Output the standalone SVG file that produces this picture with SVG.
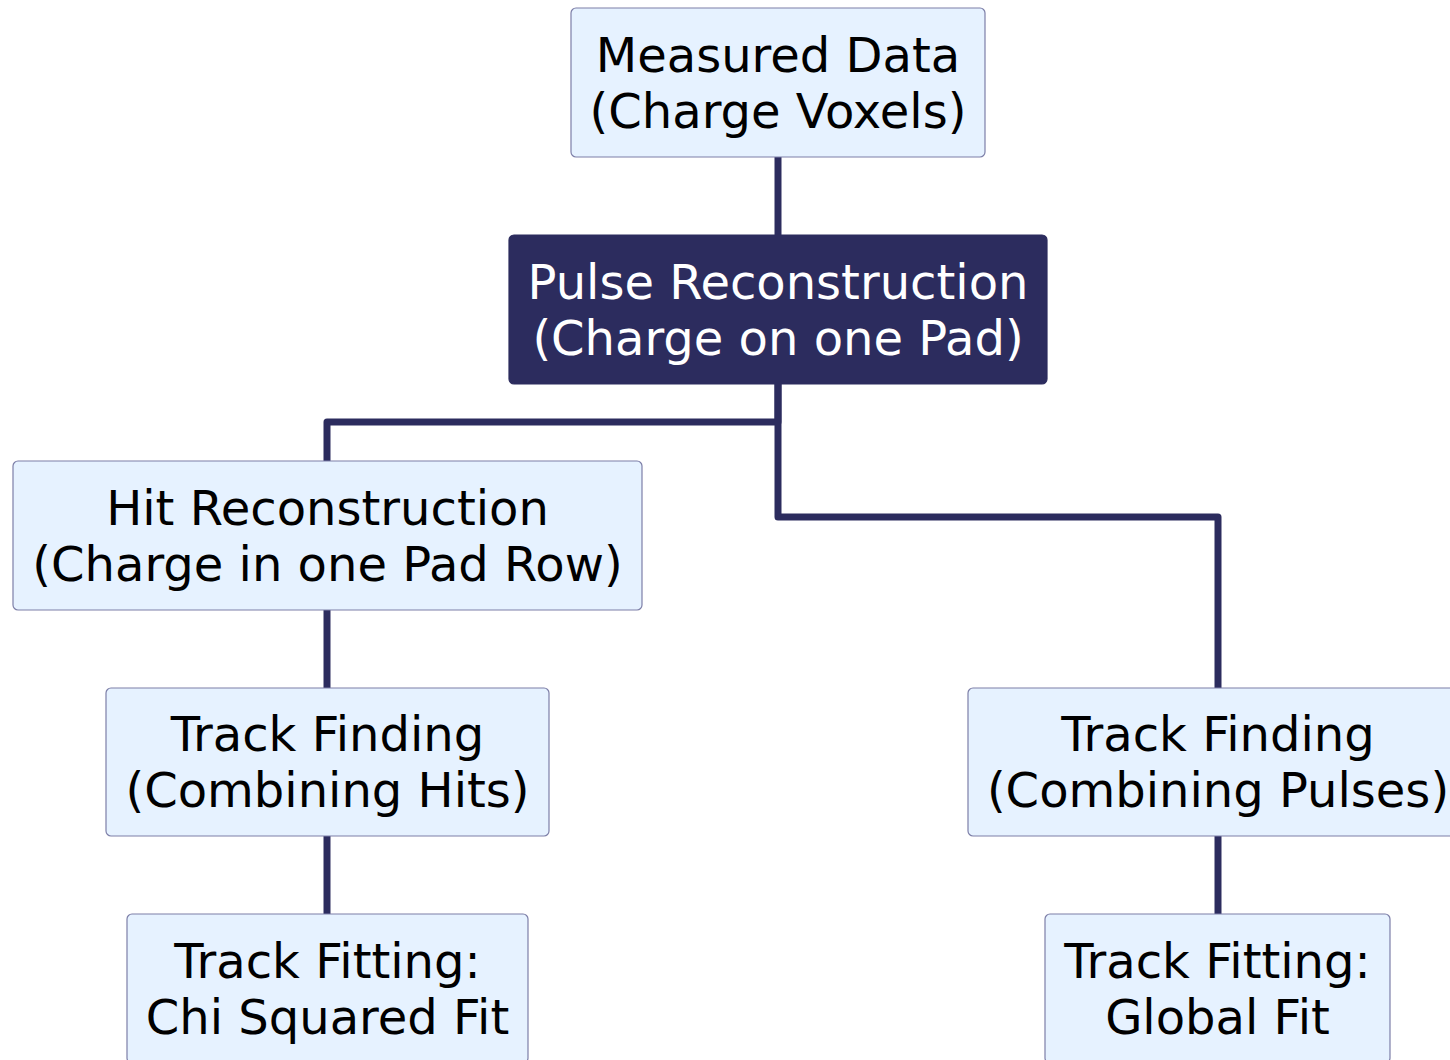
<svg xmlns="http://www.w3.org/2000/svg" width="1450" height="1060" viewBox="0 0 1450 1060">
  <style>
    .box { fill: #e6f2ff; stroke: #7d7fa8; stroke-width: 1.2; }
    .dark { fill: #2c2c5e; stroke: #2c2c5e; stroke-width: 1.2; }
    .lbl { font-family: "DejaVu Sans", sans-serif; font-size: 48px; text-anchor: middle; fill: #000; }
    .lbl-w { font-family: "DejaVu Sans", sans-serif; font-size: 48px; text-anchor: middle; fill: #fff; }
    .edge { fill: none; stroke: #2c2c5e; stroke-width: 7; stroke-linejoin: round; }
  </style>
  <rect width="1450" height="1060" fill="#ffffff"/>

  <g id="connectors">
    <path class="edge" d="M778 157 V235"/>
    <path class="edge" d="M778 384 V422 H327 V461"/>
    <path class="edge" d="M778 384 V517 H1218 V688"/>
    <path class="edge" d="M327 610 V688"/>
    <path class="edge" d="M327 836 V914"/>
    <path class="edge" d="M1218 836 V914"/>
  </g>

  <g id="measured-data">
    <rect class="box" x="571" y="8" width="414" height="149" rx="5"/>
    <text class="lbl" x="778" y="72">Measured Data</text>
    <text class="lbl" x="778" y="128">(Charge Voxels)</text>
  </g>

  <g id="pulse-reconstruction">
    <rect class="dark" x="509" y="235" width="538" height="149" rx="5"/>
    <text class="lbl-w" x="778" y="299">Pulse Reconstruction</text>
    <text class="lbl-w" x="778" y="355">(Charge on one Pad)</text>
  </g>

  <g id="hit-reconstruction">
    <rect class="box" x="13" y="461" width="629" height="149" rx="5"/>
    <text class="lbl" x="327.5" y="525">Hit Reconstruction</text>
    <text class="lbl" x="327.5" y="581">(Charge in one Pad Row)</text>
  </g>

  <g id="track-finding-hits">
    <rect class="box" x="106" y="688" width="443" height="148" rx="5"/>
    <text class="lbl" x="327.5" y="751">Track Finding</text>
    <text class="lbl" x="327.5" y="807">(Combining Hits)</text>
  </g>

  <g id="track-finding-pulses">
    <rect class="box" x="968" y="688" width="500" height="148" rx="5"/>
    <text class="lbl" x="1218" y="751">Track Finding</text>
    <text class="lbl" x="1218" y="807">(Combining Pulses)</text>
  </g>

  <g id="track-fitting-chi2">
    <rect class="box" x="127" y="914" width="401" height="149" rx="5"/>
    <text class="lbl" x="327.5" y="978">Track Fitting:</text>
    <text class="lbl" x="327.5" y="1034">Chi Squared Fit</text>
  </g>

  <g id="track-fitting-global">
    <rect class="box" x="1045" y="914" width="345" height="149" rx="5"/>
    <text class="lbl" x="1217.5" y="978">Track Fitting:</text>
    <text class="lbl" x="1217.5" y="1034">Global Fit</text>
  </g>
</svg>
